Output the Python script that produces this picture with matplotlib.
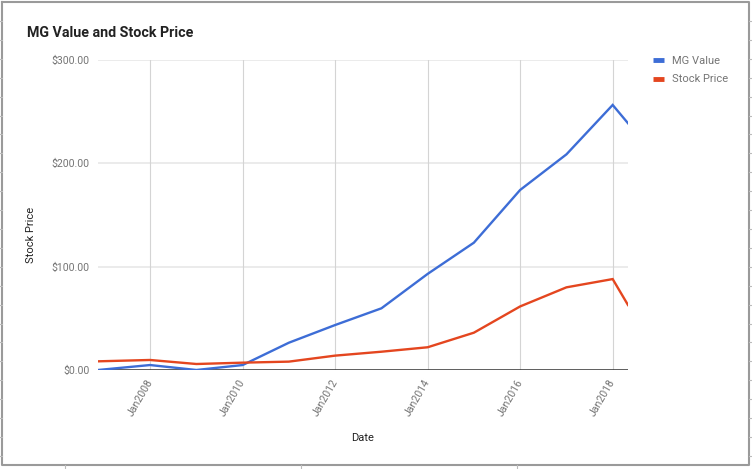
import datetime as dt
import matplotlib
matplotlib.use("Agg")
import matplotlib.pyplot as plt
import matplotlib.dates as mdates
from matplotlib.lines import Line2D

# data
dates = ["2006-11-15", "2007-12-31", "2008-12-31", "2009-12-31", "2010-12-31",
         "2011-12-31", "2012-12-31", "2013-12-31", "2014-12-31", "2015-12-31",
         "2016-12-31", "2017-12-31", "2018-05-01"]
mg_value = [0.0, 4.8, 0.0, 4.8, 26.4, 43.5, 59.7, 93.0, 123.2, 174.2, 208.7, 256.5, 238.8]
stock_price = [8.4, 9.7, 5.8, 7.1, 8.1, 13.9, 17.7, 22.0, 36.1, 61.5, 80.0, 88.0, 62.9]
y_ticks = [0, 100, 200, 300]
x_tick_years = [2008, 2010, 2012, 2014, 2016, 2018]

BLUE = "#3d6dd6"
RED = "#e4461f"
W, H = 752, 469

plt.rcParams["font.family"] = ["Roboto", "DejaVu Sans"]

x = [dt.datetime.strptime(d, "%Y-%m-%d") for d in dates]

fig = plt.figure(figsize=(W / 100, H / 100), dpi=100)
ax = fig.add_axes([98 / W, (H - 370) / H, 530 / W, 310 / H])

for yv in y_ticks[1:]:
    ax.axhline(yv, color="#e6e6e6", lw=1.1, zorder=0)
xt = [dt.datetime(y, 1, 1) for y in x_tick_years]
for t in xt:
    ax.axvline(t, color="#d4d4d4", lw=0.8, zorder=0)
ax.axhline(0, color="#333333", lw=1.1, zorder=3)

ax.plot(x, mg_value, color=BLUE, lw=1.7, zorder=4, solid_joinstyle="miter")
ax.plot(x, stock_price, color=RED, lw=1.7, zorder=4, solid_joinstyle="miter")

ax.set_xlim(x[0], x[-1])
ax.set_ylim(0, 300)
ax.set_yticks(y_ticks)
ax.set_yticklabels(["${:.2f}".format(v) for v in y_ticks])
ax.set_xticks(xt)
ax.set_xticklabels(["Jan{}".format(y) for y in x_tick_years])
for s in ax.spines.values():
    s.set_visible(False)
ax.tick_params(axis="y", length=0, pad=6, labelsize=7.6, labelcolor="#757575")
ax.tick_params(axis="x", length=0, pad=7, labelsize=7.6, labelcolor="#757575")
for lbl in ax.get_xticklabels():
    lbl.set_rotation(60)
    lbl.set_rotation_mode("anchor")
    lbl.set_ha("right")
    lbl.set_va("center")

fig.text(363 / W, 1 - 441 / H, "Date", ha="center", va="baseline", fontsize=8, color="#222222")
fig.text(31 / W, 1 - 235 / H, "Stock Price", ha="center", va="center", rotation=90,
         fontsize=8, color="#222222")
fig.text(27 / W, 1 - 37 / H, "MG Value and Stock Price", ha="left", va="baseline",
         fontsize=10.3, fontweight="bold", color="#222222")

# legend drawn by hand like the google chart one
for i, (name, col) in enumerate([("MG Value", BLUE), ("Stock Price", RED)]):
    yy = 1 - (60.5 + i * 18.5) / H
    fig.add_artist(Line2D([653 / W, 664 / W], [yy, yy], color=col, lw=3.5,
                          solid_capstyle="butt"))
    fig.text(672 / W, yy, name, ha="left", va="center", fontsize=8, color="#757575")

# outer frame with little ticks
fc = "#9a9a9a"
fig.add_artist(Line2D([2 / W, 749 / W, 749 / W, 2 / W, 2 / W],
                      [1 - 2 / H, 1 - 2 / H, 1 - 465 / H, 1 - 465 / H, 1 - 2 / H],
                      color=fc, lw=1.5))
k = 0
while 418 - 18.9 * k > 8:
    yy = 1 - (418 - 18.9 * k) / H
    fig.add_artist(Line2D([0, 2 / W], [yy, yy], color="#bbbbbb", lw=0.8))
    fig.add_artist(Line2D([749 / W, 752 / W], [yy, yy], color="#bbbbbb", lw=0.8))
    k += 1
for yy in [437, 456]:
    fig.add_artist(Line2D([0, 2 / W], [1 - yy / H] * 2, color="#bbbbbb", lw=0.8))
    fig.add_artist(Line2D([749 / W, 752 / W], [1 - yy / H] * 2, color="#bbbbbb", lw=0.8))
for xx in [65, 301, 517]:
    fig.add_artist(Line2D([xx / W] * 2, [0, 1 - 465 / H], color="#bbbbbb", lw=0.8))

fig.savefig("out.png", dpi=100)
